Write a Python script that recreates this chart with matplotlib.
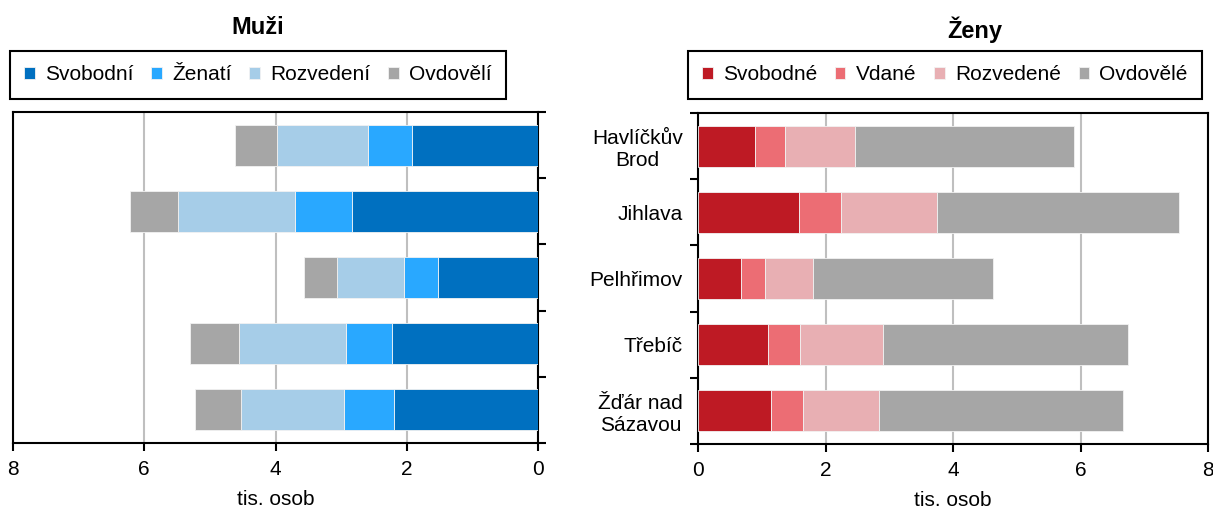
import numpy as np
import matplotlib
matplotlib.use("Agg")
import matplotlib.pyplot as plt

# -------------------------------
# DATA (tis. osob)
# -------------------------------
okresy = ["Havlíčkův\nBrod", "Jihlava", "Pelhřimov", "Třebíč", "Žďár nad\nSázavou"]

muzi_labels = ["Svobodní", "Ženatí", "Rozvedení", "Ovdovělí"]
muzi_svobodni = [1.92, 2.84, 1.52, 2.22, 2.19]
muzi_zenati = [0.67, 0.86, 0.52, 0.71, 0.77]
muzi_rozvedeni = [1.39, 1.79, 1.02, 1.63, 1.57]
muzi_ovdoveli = [0.64, 0.72, 0.51, 0.74, 0.70]

zeny_labels = ["Svobodné", "Vdané", "Rozvedené", "Ovdovělé"]
zeny_svobodne = [0.89, 1.58, 0.67, 1.10, 1.14]
zeny_vdane = [0.47, 0.66, 0.38, 0.50, 0.50]
zeny_rozvedene = [1.11, 1.51, 0.76, 1.30, 1.20]
zeny_ovdovele = [3.43, 3.79, 2.81, 3.85, 3.82]

muzi_colors = ["#0070C0", "#29A8FF", "#A6CDE8", "#A6A6A6"]
zeny_colors = ["#BE1A24", "#EC6D74", "#E8AFB3", "#A6A6A6"]

plt.rcParams["font.family"] = ["Liberation Sans", "DejaVu Sans"]

fig = plt.figure(figsize=(12.13, 5.12), dpi=100)
ax_m = fig.add_axes([13 / 1213, 1 - 443 / 512, 525 / 1213, 331 / 512])
ax_z = fig.add_axes([698 / 1213, 1 - 444 / 512, 510 / 1213, 331 / 512])

y = np.arange(len(okresy))
bar_h = 0.62
fs = 15


def stacked(ax, series, labels, colors):
    left = np.zeros(len(okresy))
    for vals, lab, col in zip(series, labels, colors):
        ax.barh(y, vals, left=left, height=bar_h, color=col, label=lab,
                edgecolor="#F2F2F2", linewidth=0.6, zorder=3)
        left += np.array(vals)


stacked(ax_m, [muzi_svobodni, muzi_zenati, muzi_rozvedeni, muzi_ovdoveli],
        muzi_labels, muzi_colors)
stacked(ax_z, [zeny_svobodne, zeny_vdane, zeny_rozvedene, zeny_ovdovele],
        zeny_labels, zeny_colors)

# -------------------------------
# AXES STYLE
# -------------------------------
for ax in (ax_m, ax_z):
    ax.set_ylim(len(okresy) - 0.5, -0.5)
    ax.set_xticks([0, 2, 4, 6, 8])
    ax.set_xticklabels(["0", "2", "4", "6", "8"])
    ax.tick_params(axis="x", direction="out", length=6, width=1.5,
                   labelsize=fs, pad=6)
    ax.grid(axis="x", color="#BFBFBF", linewidth=1.5, zorder=0)
    ax.set_xlabel("tis. osob", fontsize=fs, labelpad=8)
    for s in ax.spines.values():
        s.set_linewidth(1.5)
    ax.set_yticks(np.arange(-0.5, len(okresy)), minor=True)
    ax.tick_params(axis="y", which="minor", direction="out", length=6, width=1.5)
    ax.tick_params(axis="y", which="major", length=0)

ax_m.set_xlim(8, 0)
ax_m.set_yticks(y)
ax_m.set_yticklabels([])
ax_m.yaxis.set_ticks_position("right")

ax_z.set_xlim(0, 8)
ax_z.set_yticks(y)
ax_z.set_yticklabels(okresy, fontsize=fs, multialignment="center")
ax_z.tick_params(axis="y", which="major", pad=11)

# -------------------------------
# TITLES AND LEGENDS
# -------------------------------
fig.text(258 / 1213, 1 - 28 / 512, "Muži", fontsize=17, fontweight="bold",
         ha="center", va="center")
fig.text(975 / 1213, 1 - 30 / 512, "Ženy", fontsize=17, fontweight="bold",
         ha="center", va="center")

leg_kw = dict(loc="center", ncol=4, fontsize=fs, frameon=True, fancybox=False,
              framealpha=1, edgecolor="black", handlelength=0.5,
              handleheight=0.5, handletextpad=0.5, columnspacing=0.85,
              borderpad=0.7, bbox_transform=fig.transFigure)
leg_m = ax_m.legend(bbox_to_anchor=(258 / 1213, 1 - 75 / 512), **leg_kw)
leg_m.get_frame().set_linewidth(1.5)
leg_z = ax_z.legend(bbox_to_anchor=(945 / 1213, 1 - 75 / 512), **leg_kw)
leg_z.get_frame().set_linewidth(1.5)

fig.savefig("out.png", dpi=100)
